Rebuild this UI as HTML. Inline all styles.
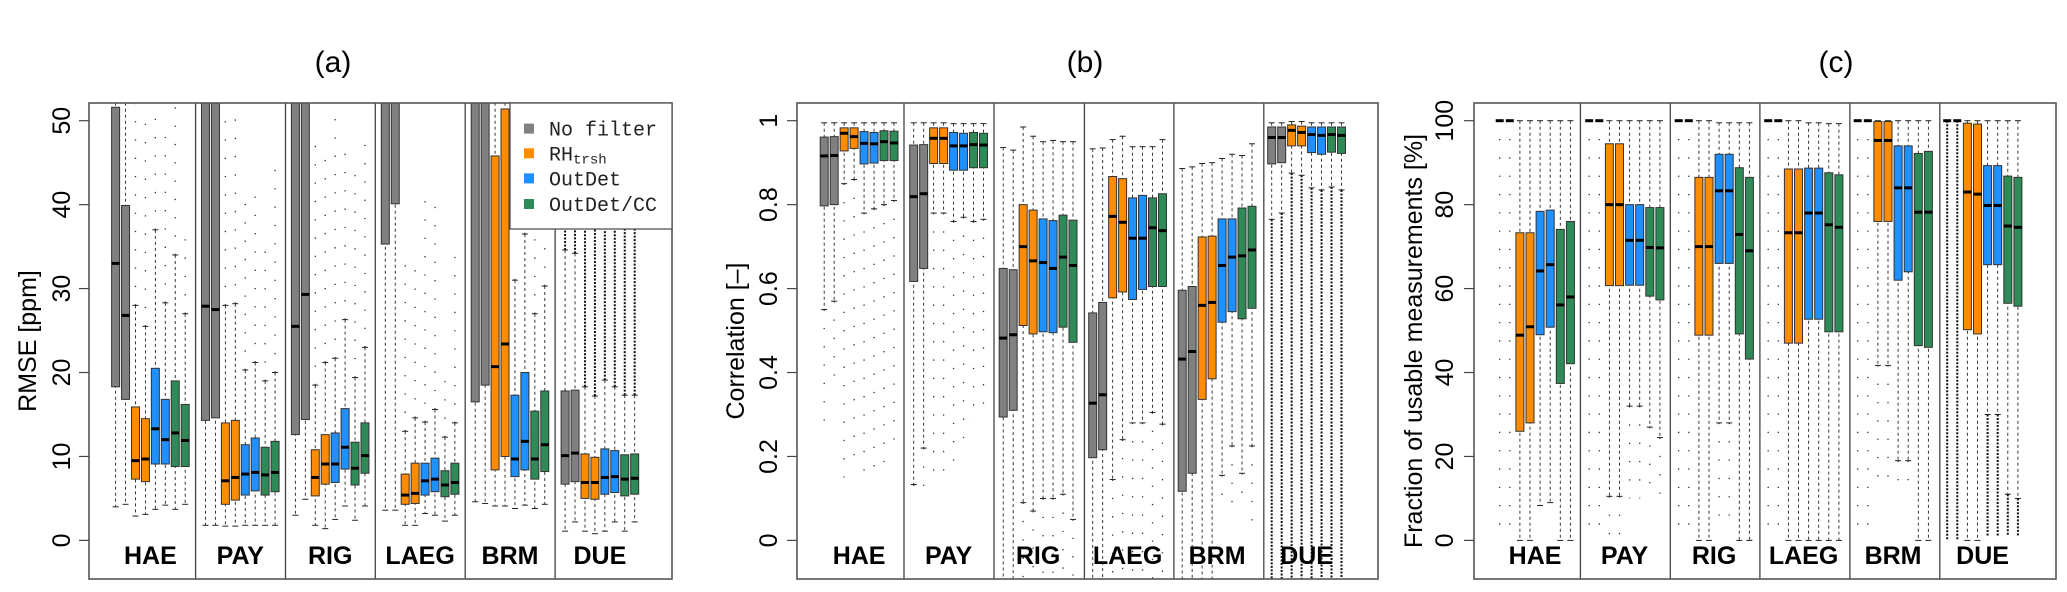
<!DOCTYPE html>
<html><head><meta charset="utf-8"><style>
html,body{margin:0;padding:0;background:#fff;overflow:hidden;width:2067px;height:592px;}
svg{display:block;font-family:"Liberation Sans",sans-serif;overflow:hidden;}
</style></head><body>
<svg id="chart" width="2067" height="592" viewBox="0 0 2067 592" xmlns="http://www.w3.org/2000/svg">
<defs>
<clipPath id="clipA"><rect x="89" y="103" width="583" height="476"/></clipPath>
<clipPath id="clipB"><rect x="797" y="103" width="581" height="476"/></clipPath>
<clipPath id="clipC"><rect x="1474" y="103" width="582" height="476"/></clipPath>
</defs>
<text x="333" y="72" font-size="30" text-anchor="middle">(a)</text>
<text x="1085" y="72" font-size="30" text-anchor="middle">(b)</text>
<text x="1836" y="72" font-size="30" text-anchor="middle">(c)</text>
</svg>
<script>
const categories = ["HAE","PAY","RIG","LAEG","BRM","DUE"];
const series = ["No filter","RH_trsh","OutDet","OutDet/CC"];
const seriesColors = ["#808080","#ff8c00","#1e90ff","#2e8b57"];

const aTicks = [0,10,20,30,40,50];
const aQ3 = [51.6,39.9,15.9,14.5,20.5,16.8,19,16.2, 60,60,14,14.3,11.4,12.2,11.1,11.8, 60,60,10.8,12.6,12.8,15.7,11.7,14.0, 60,60,7.9,9.2,9.2,9.8,8.3,9.2, 60,60,45.8,51.4,17.3,20,15.4,17.8, 17.8,17.9,10.3,9.9,10.9,10.7,10.2,10.3];
const aMed = [33,26.8,9.5,9.7,13.3,12.0,12.8,11.9, 27.9,27.5,7.1,7.5,7.9,8.1,7.8,8.1, 25.5,29.3,7.5,9.1,9.1,11.1,8.6,10.1, 58,58,5.4,5.6,7.1,7.3,6.6,6.9, 58,58,20.7,23.4,9.7,11.8,9.7,11.4, 10.1,10.4,6.9,6.9,7.5,7.6,7.3,7.4];
const aQ1 = [18.3,16.8,7.3,7.0,9.1,9.1,8.8,8.8, 14.3,14.6,4.3,4.8,5.4,5.9,5.4,5.8, 12.6,14.4,5.3,6.7,6.9,8.5,6.6,8.0, 35.3,40.1,4.3,4.4,5.4,5.8,5.2,5.5, 16.5,18.5,8.4,10.0,7.6,8.4,7.3,8.2, 6.7,7.0,5.0,4.9,5.5,5.7,5.3,5.5];
const aLo = [4,4.3,2.9,3.1,3.7,4.2,3.7,4.3, 1.8,1.8,1.7,1.7,1.8,1.8,1.8,1.8, 3.0,4.9,1.8,1.4,2.5,4.1,2.4,4.1, 3.6,3.6,1.8,1.8,3.2,3.0,2.3,3.0, 4.6,4.4,4.1,4.1,3.8,4.2,3.8,4.3, 1.1,2.2,1.1,0.8,1.1,2.2,1.1,2.2];
const aHi = [60,60,28,25.5,37,28.3,34,27, 60,60,28,28.2,20.3,21.2,19,20, 60,60,18.5,21.2,21.7,26.3,19.4,23, 60,60,13,14.6,14.1,15.6,12.3,14, 60,60,60,60,31,36.5,27,30.3, 34.6,34.2,18.3,17.2,19.1,18.3,17.3,17.3];
const aOut = [60,60,52,51,52,50,52,37, 60,60,51,51,41,41,35,46, 60,60,49,46,52,48,45,48, 60,60,34,33,42,41,19,35, 60,60,60,60,33,37,36,36, 60,60,60,60,60,60,60,60];

const bTicks = [0,0.2,0.4,0.6,0.8,1];
const bQ3 = [0.961,0.962,0.983,0.983,0.974,0.972,0.976,0.975, 0.942,0.943,0.983,0.983,0.972,0.97,0.972,0.97, 0.648,0.645,0.8,0.787,0.766,0.762,0.775,0.763, 0.542,0.567,0.867,0.862,0.816,0.822,0.816,0.826, 0.596,0.605,0.723,0.725,0.766,0.766,0.792,0.796, 0.985,0.985,0.99,0.987,0.985,0.985,0.985,0.985];
const bMed = [0.916,0.917,0.97,0.962,0.946,0.945,0.95,0.947, 0.819,0.826,0.958,0.958,0.94,0.94,0.943,0.942, 0.482,0.49,0.7,0.666,0.662,0.648,0.675,0.655, 0.327,0.347,0.772,0.758,0.72,0.72,0.745,0.738, 0.432,0.45,0.56,0.567,0.655,0.675,0.678,0.692, 0.96,0.96,0.977,0.972,0.967,0.965,0.967,0.965];
const bQ1 = [0.797,0.8,0.928,0.934,0.897,0.899,0.905,0.905, 0.617,0.648,0.898,0.898,0.882,0.882,0.888,0.888, 0.294,0.31,0.512,0.492,0.497,0.495,0.508,0.472, 0.197,0.216,0.578,0.592,0.574,0.598,0.605,0.605, 0.117,0.16,0.336,0.385,0.52,0.545,0.528,0.553, 0.897,0.9,0.94,0.94,0.924,0.92,0.925,0.922];
const bLo = [0.55,0.57,0.85,0.86,0.78,0.79,0.8,0.81, 0.133,0.22,0.78,0.78,0.76,0.77,0.76,0.765, -0.2,-0.2,0.09,0.07,0.1,0.1,0.11,0.05, -0.2,-0.2,0.145,0.24,0.28,0.28,0.305,0.277, -0.2,-0.2,-0.2,-0.2,0.155,0.225,0.16,0.225, 0.765,0.78,0.875,0.87,0.84,0.835,0.842,0.835];
const bHi = [0.995,0.995,0.995,0.995,0.995,0.995,0.995,0.995, 0.995,0.995,0.995,0.995,0.993,0.993,0.993,0.993, 0.936,0.93,0.985,0.963,0.95,0.953,0.95,0.95, 0.933,0.935,0.955,0.963,0.938,0.938,0.938,0.955, 0.886,0.89,0.898,0.9,0.91,0.92,0.917,0.945, 0.995,0.995,0.998,0.998,0.995,0.995,0.995,0.995];
const bOut = [0.28,0.36,0.15,0.17,0.13,0.17,0.18,0.2, 0.11,0.13,0.13,0.13,0.16,0.22,0.28,0.3, -0.2,-0.2,-0.2,-0.2,-0.2,-0.2,-0.2,-0.2, -0.2,-0.2,-0.2,-0.2,-0.2,-0.2,-0.2,-0.2, -0.2,-0.2,-0.2,-0.2,0.08,0.08,0.08,0.03, -0.2,-0.2,-0.2,-0.2,-0.2,-0.2,-0.2,-0.2];

const cTicks = [0,20,40,60,80,100];
const cQ3 = [100,100,73.3,73.3,78.4,78.7,74.1,76, 100,100,94.5,94.5,80,80,79.3,79.3, 100,100,86.5,86.5,92,92,88.8,86.5, 100,100,88.5,88.5,88.7,88.7,87.6,87.1, 100,100,99.8,99.8,94,94,92.2,92.7, 100,100,99.4,99.2,89.3,89.3,86.8,86.5];
const cMed = [100,100,48.9,50.9,64.2,65.7,56.1,58, 100,100,80,80,71.5,71.5,69.8,69.7, 100,100,70,70,83.3,83.3,72.9,69, 100,100,73.3,73.3,78,78,75.2,74.6, 100,100,95.3,95.3,84,84,78.2,78.2, 100,100,83,82.5,79.8,79.8,74.9,74.6];
const cQ1 = [100,100,26,28,49,50.8,37.4,42.1, 100,100,60.7,60.7,60.8,60.8,58.2,57.3, 100,100,48.9,48.9,66,66,49.2,43.2, 100,100,47,47,52.7,52.7,49.7,49.7, 100,100,76,76,62,64,46.4,46, 100,100,50.2,49.2,65.7,65.7,56.5,55.8];
const cLo = [100,100,0,0,8.3,9,0,0, 100,100,10.5,10.5,32,32,27,24.5, 100,100,0,0,28,28,0,0, 100,100,0,0,0,0,0,0, 100,100,41.7,41.7,19,19,0,0, 100,100,0,0,30,30,11,10];
const cHi = [100,100,100,100,100,100,100,100, 100,100,100,100,100,100,100,100, 100,100,100,100,99.5,99.5,99.5,99.5, 100,100,100,100,99.5,99.5,99.3,99.3, 100,100,100,100,100,100,100,100, 100,100,100,100,100,100,100,100];
const cOut = [0,0,0,0,8,9,0,0, 0,0,1,1,10,10,10,10, 0,0,0,0,3,3,0,0, 0,0,0,0,0,0,0,0, 0,0,13,13,13,13,0,0, 0,0,0,0,1,1,1,1];

const NS = "http://www.w3.org/2000/svg";
const svg = document.getElementById("chart");
function mk(tag, attrs, parent){const e=document.createElementNS(NS,tag);for(const k in attrs)e.setAttribute(k,attrs[k]);(parent||svg).appendChild(e);return e;}

function drawPanel(p){
  const yS = v => p.y0 + (v - 0) * (p.y1 - p.y0) / p.vmax;
  const xS = (g,i) => p.firstX + g*p.pitch + i*p.step;
  const g0 = mk("g",{"clip-path":"url(#"+p.clip+")"});
  
  
  const n = p.q3.length;
  for(let k=0;k<n;k++){
    const g=Math.floor(k/8), i=k%8, s=Math.floor(i/2);
    const cx=xS(g,i), w=p.bw;
    const q3=yS(p.q3[k]), q1=yS(p.q1[k]), md=yS(p.med[k]), lo=yS(p.lo[k]), hi=yS(p.hi[k]);
    const dense = (g===5);
    let oy1, oy2;
    if(p.outUp){ oy1=hi; oy2=yS(p.out[k]); } else { oy1=lo; oy2=yS(p.out[k]); }
    if(Math.abs(oy2-oy1)>3){
      const o=mk("line",{x1:cx,x2:cx,y1:oy1,y2:oy2,stroke:dense?"#111":"#333","stroke-width":dense?2:1.3,"stroke-dasharray":dense?"2 1.5":"1.3 17"},g0);
      
      
    }
    const wl=mk("line",{x1:cx,x2:cx,y1:hi,y2:lo,stroke:"#222","stroke-width":0.9,"stroke-dasharray":"3 3"},g0);
    
    
    [hi,lo].forEach(yy=>{const c=mk("line",{x1:cx-3,x2:cx+3,y1:yy,y2:yy,stroke:"#222","stroke-width":1},g0);
      
      });
    const top=Math.min(q3,q1), h=Math.abs(q1-q3);
    if(h>0.5){
      const r=mk("rect",{x:cx-w/2,y:top,width:w,height:h,fill:seriesColors[s],stroke:"#333","stroke-width":1},g0);
      
      
    }
    const m=mk("line",{x1:cx-w/2,x2:cx+w/2,y1:md,y2:md,stroke:"#000","stroke-width":3},g0);
    
    
  }
  p.seps.forEach(sx=>{const l=mk("line",{x1:sx,x2:sx,y1:p.top,y2:p.bottom,stroke:"#444","stroke-width":1.3});
    
    });
  const fr=mk("rect",{x:p.left,y:p.top,width:p.right-p.left,height:p.bottom-p.top,fill:"none",stroke:"#555","stroke-width":1.6});
  
  
  categories.forEach((c,g)=>{
    const t=mk("text",{x:xS(g,3.5),y:564,"font-size":25,"font-weight":"bold","text-anchor":"middle"});
    t.textContent=c;
    
    
  });
  p.ticks.forEach(v=>{
    const yy=yS(v);
    const tl=mk("line",{x1:p.left-10,x2:p.left,y1:yy,y2:yy,stroke:"#444","stroke-width":1.2});
    
    
    const t=mk("text",{x:p.tickX,y:yy,"font-size":25,"text-anchor":"middle",transform:"rotate(-90 "+p.tickX+" "+yy+")"});
    t.textContent=String(v);
    
    
  });
  const yt=mk("text",{x:p.titleX,y:341,"font-size":25,"text-anchor":"middle",transform:"rotate(-90 "+p.titleX+" 341)"});
  yt.textContent=p.title;
  
  
}

drawPanel({id:"panel-a",clip:"clipA",left:89,right:672,top:103,bottom:579,y0:540.4,y1:120.7,vmax:50,
  firstX:115.6,pitch:89.9,step:9.94,bw:8,seps:[195.6,285.5,375.3,465.2,555.1],
  q3:aQ3,med:aMed,q1:aQ1,lo:aLo,hi:aHi,out:aOut,outUp:true,ticks:aTicks,tickX:70,titleX:36,title:"RMSE [ppm]"});
drawPanel({id:"panel-b",clip:"clipB",left:797,right:1378,top:103,bottom:579,y0:540.4,y1:120.7,vmax:1,
  firstX:824.2,pitch:89.5,step:9.97,bw:8,seps:[904,994,1084.4,1173.9,1263.8],
  q3:bQ3,med:bMed,q1:bQ1,lo:bLo,hi:bHi,out:bOut,outUp:false,ticks:bTicks,tickX:777,titleX:744,title:"Correlation [–]"});
drawPanel({id:"panel-c",clip:"clipC",left:1474,right:2056,top:103,bottom:579,y0:540.4,y1:120.7,vmax:100,
  firstX:1499.7,pitch:89.5,step:10.1,bw:8,seps:[1580.4,1670.3,1759.9,1849.9,1939.8],
  q3:cQ3,med:cMed,q1:cQ1,lo:cLo,hi:cHi,out:cOut,outUp:false,ticks:cTicks,tickX:1453,titleX:1422,title:"Fraction of usable measurements [%]"});

const lg=mk("g",{});


mk("rect",{x:510,y:103,width:162,height:126,fill:"#fff",stroke:"#555","stroke-width":1.3},lg);
const rows=[128.6,153.3,178.4,204];
series.forEach((s,i)=>{
  const sq=mk("rect",{x:524,y:rows[i]-5,width:10,height:10,fill:seriesColors[i]},lg);
  
  
  const t=mk("text",{x:549,y:rows[i]+7,"font-size":20,"font-family":"Liberation Mono, monospace",fill:"#222"},lg);
  if(s==="RH_trsh"){
    t.textContent="RH";
    const sub=mk("tspan",{"font-size":14,dy:3},t); sub.textContent="trsh";
  } else t.textContent=s;
  
  
});
</script>
</body></html>
